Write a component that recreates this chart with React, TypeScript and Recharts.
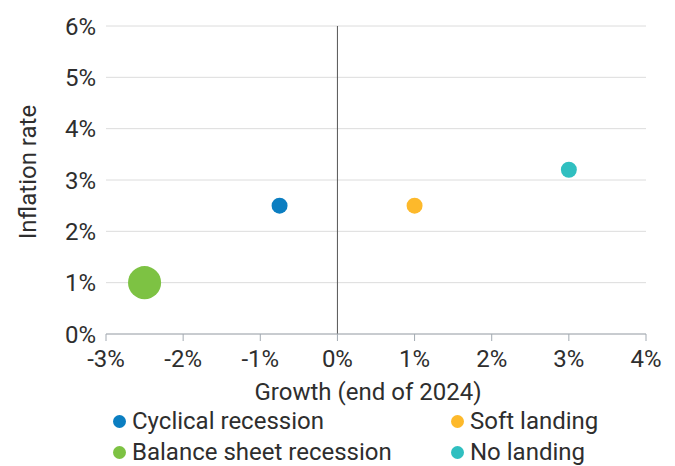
import {
  ScatterChart,
  Scatter,
  XAxis,
  YAxis,
  ZAxis,
  CartesianGrid,
  ReferenceLine,
  Legend,
} from "recharts";

const scenarios = ["Cyclical recession", "Soft landing", "Balance sheet recession", "No landing"];
const growth = [-0.75, 1, -2.5, 3];
const inflation = [2.5, 2.5, 1, 3.2];
const weight = [1, 1, 4, 1];
const colors = ["#0b7ec1", "#fdb92b", "#7dc243", "#30bfc0"];

const xTicks = [-3, -2, -1, 0, 1, 2, 3, 4];
const yTicks = [0, 1, 2, 3, 4, 5, 6];

const FONT = "Roboto, sans-serif";
const TEXT = "#2e2e2e";

const pct = (v: number) => `${v}%`;

const LegendBox = () => (
  <div style={{ position: "relative", height: 66, fontFamily: FONT, fontSize: 24, color: TEXT }}>
    {scenarios.map((name, i) => {
      const col = i % 2;
      const row = Math.floor(i / 2);
      return (
        <div
          key={name}
          style={{
            position: "absolute",
            left: col === 0 ? 113 : 451,
            top: row * 31 + 5,
            display: "flex",
            alignItems: "center",
            whiteSpace: "nowrap",
            lineHeight: "32px",
          }}
        >
          <span
            style={{
              width: 13,
              height: 13,
              borderRadius: "50%",
              background: colors[i],
              marginRight: 6,
              display: "inline-block",
            }}
          />
          {name}
        </div>
      );
    })}
  </div>
);

export default function App() {
  return (
    <div style={{ position: "absolute", left: 0, top: 0, width: 675, height: 466, background: "#fff" }}>
      <ScatterChart width={675} height={466} margin={{ top: 26, right: 29, left: 0, bottom: 0 }}>
        <CartesianGrid vertical={false} stroke="#dcdcdc" />
        <XAxis
          type="number"
          dataKey="x"
          domain={[-3, 4]}
          ticks={xTicks}
          tickFormatter={pct}
          height={66}
          stroke="#a3aab2"
          tickSize={7}
          tickMargin={9}
          tick={{ fill: TEXT, fontSize: 24, fontFamily: FONT }}
          label={{
            content: (p: any) => (
              <text
                x={p.viewBox.x + p.viewBox.width / 2 - 8}
                y={p.viewBox.y + 66}
                textAnchor="middle"
                fill={TEXT}
                fontSize={24}
                fontFamily={FONT}
              >
                Growth (end of 2024)
              </text>
            ),
          }}
        />
        <YAxis
          type="number"
          dataKey="y"
          domain={[0, 6]}
          ticks={yTicks}
          tickFormatter={pct}
          width={106}
          axisLine={false}
          tickLine={false}
          tickMargin={4}
          tick={{ fill: TEXT, fontSize: 24, fontFamily: FONT }}
          label={{
            content: (p: any) => {
              const cx = 28;
              const cy = p.viewBox.y + p.viewBox.height / 2 - 8;
              return (
                <text
                  x={cx}
                  y={cy}
                  transform={`rotate(-90, ${cx}, ${cy})`}
                  textAnchor="middle"
                  dominantBaseline="central"
                  fill={TEXT}
                  fontSize={24}
                  fontFamily={FONT}
                >
                  Inflation rate
                </text>
              );
            },
          }}
        />
        <ZAxis type="number" dataKey="z" domain={[1, 4]} range={[200, 860]} />
        <ReferenceLine x={0} stroke="#555" strokeWidth={1} />
        {scenarios.map((name, i) => (
          <Scatter
            key={name}
            name={name}
            data={[{ x: growth[i], y: inflation[i], z: weight[i] }]}
            fill={colors[i]}
            isAnimationActive={false}
          />
        ))}
        <Legend verticalAlign="bottom" content={() => <LegendBox />} />
      </ScatterChart>
    </div>
  );
}
